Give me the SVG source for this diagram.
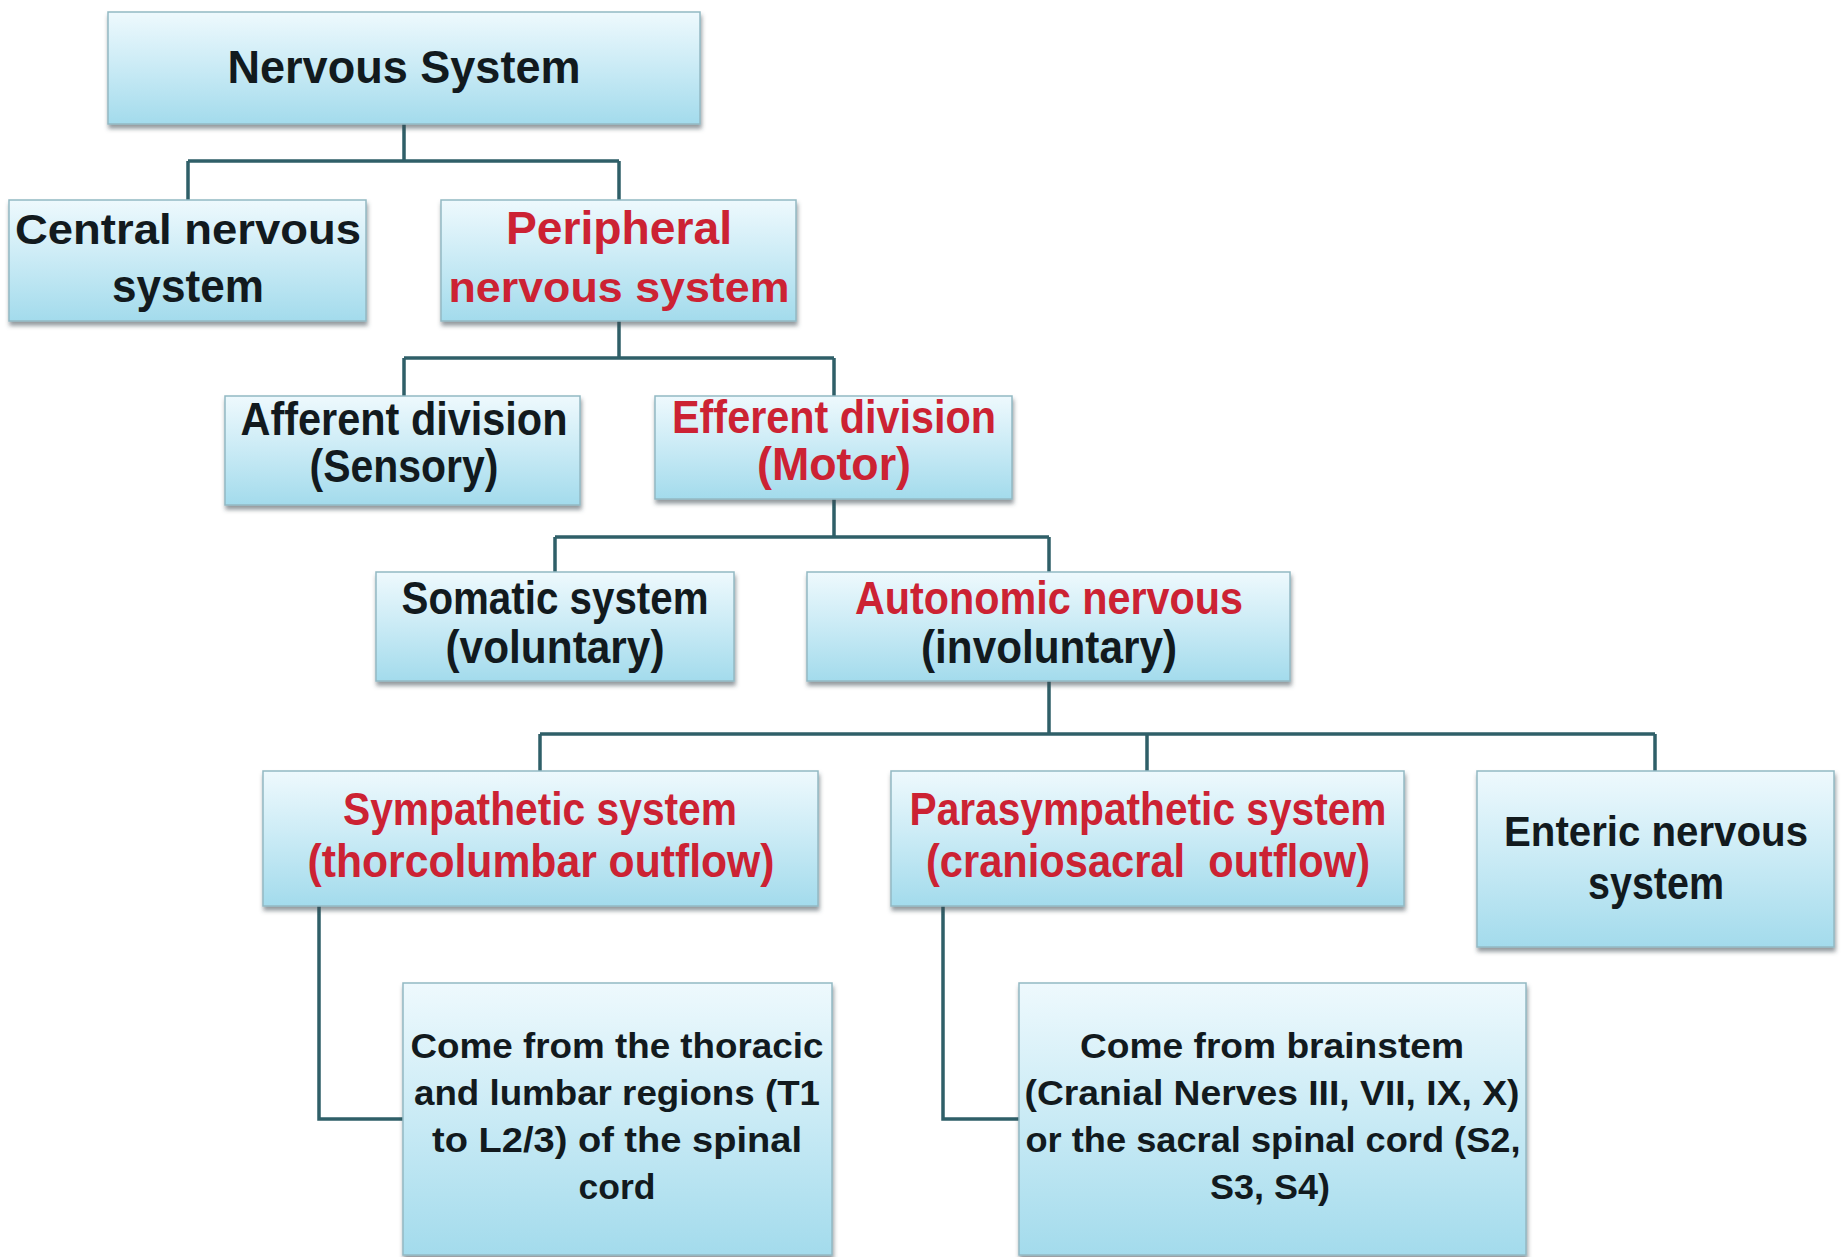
<svg xmlns="http://www.w3.org/2000/svg" width="1841" height="1257" viewBox="0 0 1841 1257">
<defs>
<linearGradient id="g" x1="0" y1="0" x2="0" y2="1">
<stop offset="0" stop-color="#eef9fd"/>
<stop offset="0.45" stop-color="#cdecf6"/>
<stop offset="1" stop-color="#a3dbec"/>
</linearGradient>
<filter id="sh" x="-5%" y="-5%" width="110%" height="120%">
<feDropShadow dx="1" dy="4" stdDeviation="2" flood-color="#3a4a50" flood-opacity="0.55"/>
</filter>
</defs>
<style>
.box{fill:url(#g);stroke:#93b9c3;stroke-width:1.5;filter:url(#sh)}
.t{font-family:"Liberation Sans",Arial,sans-serif;font-weight:bold;text-anchor:middle;fill:#121a1e}
.big{font-size:46px}
.mid{font-size:43px}
.sm{font-size:35px}
.red{fill:#cc2233}
.c{fill:none;stroke:#2f5f68;stroke-width:3.5}
</style>
<rect width="1841" height="1257" fill="#ffffff"/>
<g id="connectors">
<path class="c" d="M404 124 V161 M188 161 H619 M188 161 V200 M619 161 V200"/>
<path class="c" d="M619 321 V358 M404 358 H834 M404 358 V396 M834 358 V396"/>
<path class="c" d="M834 499 V537 M555 537 H1049 M555 537 V572 M1049 537 V572"/>
<path class="c" d="M1049 681 V734 M540 734 H1655 M540 734 V771 M1147 734 V771 M1655 734 V771"/>
<path class="c" d="M319 906 V1119 H403"/>
<path class="c" d="M943 906 V1119 H1019"/>
</g>
<g id="n-nervous-system">
<rect class="box" x="108" y="12" width="592" height="112"/>
<text class="t big" x="404" y="83" textLength="353" lengthAdjust="spacingAndGlyphs">Nervous System</text>
</g>
<g id="n-cns">
<rect class="box" x="9" y="200" width="357" height="121"/>
<text class="t mid" x="188" y="244" textLength="346" lengthAdjust="spacingAndGlyphs">Central nervous</text>
<text class="t big" x="188" y="302" textLength="152" lengthAdjust="spacingAndGlyphs">system</text>
</g>
<g id="n-pns">
<rect class="box" x="441" y="200" width="355" height="121"/>
<text class="t big red" x="619" y="244" textLength="226" lengthAdjust="spacingAndGlyphs">Peripheral</text>
<text class="t mid red" x="619" y="302" textLength="341" lengthAdjust="spacingAndGlyphs">nervous system</text>
</g>
<g id="n-afferent">
<rect class="box" x="225" y="396" width="355" height="109"/>
<text class="t big" x="404" y="435" textLength="327" lengthAdjust="spacingAndGlyphs">Afferent division</text>
<text class="t big" x="404" y="482" textLength="189" lengthAdjust="spacingAndGlyphs">(Sensory)</text>
</g>
<g id="n-efferent">
<rect class="box" x="655" y="396" width="357" height="103"/>
<text class="t big red" x="834" y="433" textLength="324" lengthAdjust="spacingAndGlyphs">Efferent division</text>
<text class="t big red" x="834" y="480" textLength="154" lengthAdjust="spacingAndGlyphs">(Motor)</text>
</g>
<g id="n-somatic">
<rect class="box" x="376" y="572" width="358" height="109"/>
<text class="t big" x="555" y="614" textLength="307" lengthAdjust="spacingAndGlyphs">Somatic system</text>
<text class="t big" x="555" y="663" textLength="219" lengthAdjust="spacingAndGlyphs">(voluntary)</text>
</g>
<g id="n-autonomic">
<rect class="box" x="807" y="572" width="483" height="109"/>
<text class="t big red" x="1049" y="614" textLength="388" lengthAdjust="spacingAndGlyphs">Autonomic nervous</text>
<text class="t big" x="1049" y="663" textLength="256" lengthAdjust="spacingAndGlyphs">(involuntary)</text>
</g>
<g id="n-sympathetic">
<rect class="box" x="263" y="771" width="555" height="135"/>
<text class="t big red" x="540" y="825" textLength="394" lengthAdjust="spacingAndGlyphs">Sympathetic system</text>
<text class="t big red" x="541" y="877" textLength="467" lengthAdjust="spacingAndGlyphs">(thorcolumbar outflow)</text>
</g>
<g id="n-parasympathetic">
<rect class="box" x="891" y="771" width="513" height="135"/>
<text class="t big red" x="1148" y="825" textLength="477" lengthAdjust="spacingAndGlyphs">Parasympathetic system</text>
<text class="t big red" x="1148" y="877" textLength="444" lengthAdjust="spacingAndGlyphs" style="white-space:pre">(craniosacral  outflow)</text>
</g>
<g id="n-enteric">
<rect class="box" x="1477" y="771" width="357" height="176"/>
<text class="t mid" x="1656" y="846" textLength="304" lengthAdjust="spacingAndGlyphs">Enteric nervous</text>
<text class="t big" x="1656" y="899" textLength="136" lengthAdjust="spacingAndGlyphs">system</text>
</g>
<g id="n-thoracic">
<rect class="box" x="403" y="983" width="429" height="272"/>
<text class="t sm" x="617" y="1058" textLength="413" lengthAdjust="spacingAndGlyphs">Come from the thoracic</text>
<text class="t sm" x="617" y="1105" textLength="406" lengthAdjust="spacingAndGlyphs">and lumbar regions (T1</text>
<text class="t sm" x="617" y="1152" textLength="370" lengthAdjust="spacingAndGlyphs">to L2/3) of the spinal</text>
<text class="t sm" x="617" y="1199" textLength="77" lengthAdjust="spacingAndGlyphs">cord</text>
</g>
<g id="n-brainstem">
<rect class="box" x="1019" y="983" width="507" height="272"/>
<text class="t sm" x="1272" y="1058" textLength="384" lengthAdjust="spacingAndGlyphs">Come from brainstem</text>
<text class="t sm" x="1272" y="1105" textLength="495" lengthAdjust="spacingAndGlyphs">(Cranial Nerves III, VII, IX, X)</text>
<text class="t sm" x="1273" y="1152" textLength="495" lengthAdjust="spacingAndGlyphs">or the sacral spinal cord (S2,</text>
<text class="t sm" x="1270" y="1199" textLength="120" lengthAdjust="spacingAndGlyphs">S3, S4)</text>
</g>
</svg>
